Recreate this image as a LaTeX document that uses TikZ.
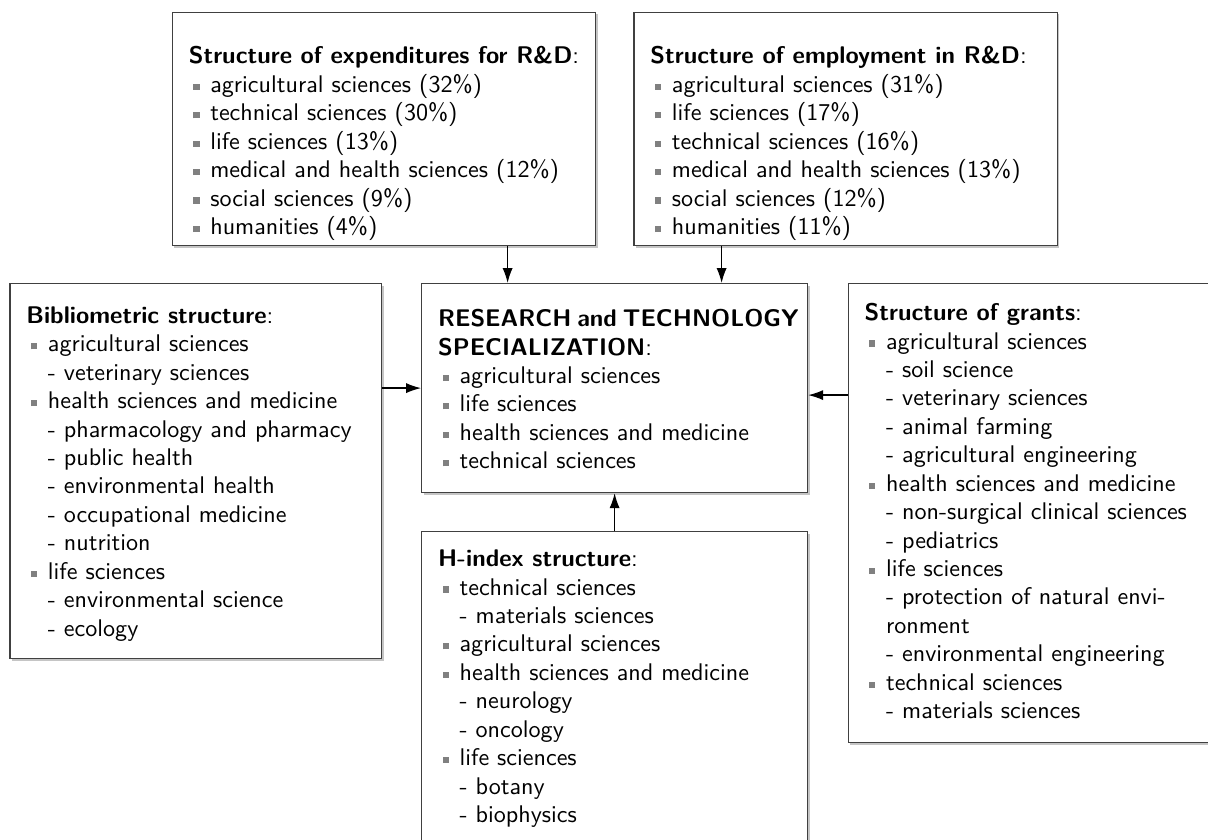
\documentclass[tikz,border=0pt]{standalone}
\usetikzlibrary{arrows.meta,calc,shadows}
\renewcommand{\familydefault}{\sfdefault}

\newlength{\px}
\setlength{\px}{0.415pt}
\newcommand{\itm}{\makebox[21.5\px][l]{\hspace*{4.5\px}\textcolor{black!50}{\rule[1pt]{2.6pt}{2.6pt}}}}
\newcommand{\subitm}{\hspace*{21.5\px}- }
\newcommand{\cont}{\hspace*{21.5\px}}
% width, height, first baseline (px), lines
\newcommand{\boxbody}[4]{\parbox[t][#2\px][t]{\dimexpr#1\px-33\px\relax}{\raggedright\vspace*{\dimexpr#3\px-8.26pt\relax}\strut#4}}

\begin{document}
\begin{tikzpicture}[x=0.415pt,y=-0.415pt,
    box/.style={draw=black!75, line width=0.5pt, fill=white, anchor=north west,
        inner xsep=6.85pt, inner ysep=0pt,
        drop shadow={shadow xshift=0.8pt, shadow yshift=-0.8pt, fill=black!45},
        font=\fontsize{10}{11.8}\selectfont},
    arr/.style={-{Latex[length=6.2pt,width=4.2pt]}, line width=0.5pt}]

\useasboundingbox (0,0) rectangle (1208,840);

\node[box] (expend) at (171.7,11.7) {\boxbody{423.3}{233.3}{51.6}{%
    \textbf{Structure of expenditures for R\&D}:\\
    \itm agricultural sciences (32\%)\\
    \itm technical sciences (30\%)\\
    \itm life sciences (13\%)\\
    \itm medical and health sciences (12\%)\\
    \itm social sciences (9\%)\\
    \itm humanities (4\%)}};

\node[box] (employ) at (633.3,11.7) {\boxbody{423.3}{233.3}{51.6}{%
    \textbf{Structure of employment in R\&D}:\\
    \itm agricultural sciences (31\%)\\
    \itm life sciences (17\%)\\
    \itm technical sciences (16\%)\\
    \itm medical and health sciences (13\%)\\
    \itm social sciences (12\%)\\
    \itm humanities (11\%)}};

\node[box] (spec) at (421,283) {\boxbody{386}{209}{43}{%
    \makebox[347\px][s]{\textbf{RESEARCH and TECHNOLOGY}}\\
    \textbf{SPECIALIZATION}:\\
    \itm agricultural sciences\\
    \itm life sciences\\
    \itm health sciences and medicine\\
    \itm technical sciences}};

\node[box] (biblio) at (9.3,283) {\boxbody{371.7}{375}{39.7}{%
    \textbf{Bibliometric structure}:\\
    \itm agricultural sciences\\
    \subitm veterinary sciences\\
    \itm health sciences and medicine\\
    \subitm pharmacology and pharmacy\\
    \subitm public health\\
    \subitm environmental health\\
    \subitm occupational medicine\\
    \subitm nutrition\\
    \itm life sciences\\
    \subitm environmental science\\
    \subitm ecology}};

\node[box] (grants) at (847.5,283) {\boxbody{371.7}{459}{37}{%
    \textbf{Structure of grants}:\\
    \itm agricultural sciences\\
    \subitm soil science\\
    \subitm veterinary sciences\\
    \subitm animal farming\\
    \subitm agricultural engineering\\
    \itm health sciences and medicine\\
    \subitm non-surgical clinical sciences\\
    \subitm pediatrics\\
    \itm life sciences\\
    \subitm protection of natural envi-\\
    \cont ronment\\
    \subitm environmental engineering\\
    \itm technical sciences\\
    \subitm materials sciences}};

\node[box] (hindex) at (421,531) {\boxbody{386}{330}{35}{%
    \textbf{H-index structure}:\\
    \itm technical sciences\\
    \subitm materials sciences\\
    \itm agricultural sciences\\
    \itm health sciences and medicine\\
    \subitm neurology\\
    \subitm oncology\\
    \itm life sciences\\
    \subitm botany\\
    \subitm biophysics}};

% arrows into the specialization box
\coordinate (inL) at ($(spec.north)+(-107,0)$);
\coordinate (inR) at ($(spec.north)+(107,0)$);
\coordinate (inE) at ($(spec.east)+(0,7)$);
\draw[arr] (expend.south -| inL) -- (inL);
\draw[arr] (employ.south -| inR) -- (inR);
\draw[arr] (biblio.east |- spec.west) -- (spec.west);
\draw[arr] (grants.west |- inE) -- (inE);
\draw[arr] (hindex.north) -- (spec.south);

\end{tikzpicture}
\end{document}
